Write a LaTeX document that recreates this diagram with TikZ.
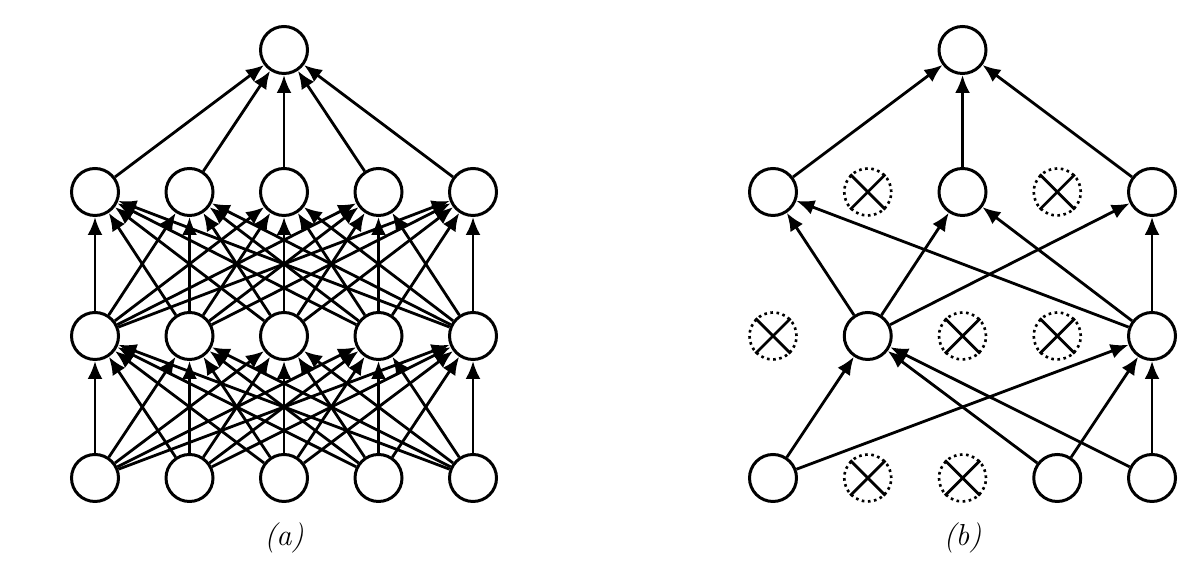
\documentclass[tikz,border=0pt]{standalone}
\usetikzlibrary{arrows.meta}

\begin{document}
\begin{tikzpicture}[
 n/.style={circle,draw,line width=1.7pt,fill=white,minimum size=.94cm,inner sep=0pt},
 d/.style={circle,draw,dotted,line width=1.5pt,minimum size=.94cm,inner sep=0pt},
 a/.style={-{Latex[length=3.6mm,width=3mm]},line width=1.6pt},
 lab/.style={font=\LARGE\itshape}]
\useasboundingbox (0,0) rectangle (24,11.24);
% (a) standard net
\foreach \i in {0,...,4}{
 \node[n] (a3\i) at (1.9+1.89*\i,1.68) {};
 \node[n] (a2\i) at (1.9+1.89*\i,4.52) {};
 \node[n] (a1\i) at (1.9+1.89*\i,7.40) {};}
\node[n] (a0) at (5.68,10.24) {};
\foreach \i in {0,...,4}{
 \draw[a] (a1\i)--(a0);
 \foreach \j in {0,...,4}{\draw[a] (a3\i)--(a2\j);\draw[a] (a2\i)--(a1\j);}}
\node[lab] (la) at (5.68,0.48) {(a)};
% (b) after dropout
\foreach \i/\s in {0/n,1/d,2/d,3/n,4/n}{\node[\s] (b3\i) at (15.46+1.895*\i,1.68) {};}
\foreach \i/\s in {0/d,1/n,2/d,3/d,4/n}{\node[\s] (b2\i) at (15.46+1.895*\i,4.52) {};}
\foreach \i/\s in {0/n,1/d,2/n,3/d,4/n}{\node[\s] (b1\i) at (15.46+1.895*\i,7.40) {};}
\node[n] (b0) at (19.25,10.24) {};
\foreach \p in {b31,b32,b20,b22,b23,b11,b13}{
 \draw[line width=1.6pt] (\p.45)--(\p.225) (\p.135)--(\p.315);}
\foreach \i in {0,2,4}{
 \draw[a] (b1\i)--(b0);
 \foreach \j in {1,4}{\draw[a] (b2\j)--(b1\i);}}
\foreach \i in {0,3,4}{
 \foreach \j in {1,4}{\draw[a] (b3\i)--(b2\j);}}
\node[lab] (lb) at (19.25,0.48) {(b)};
\end{tikzpicture}
\end{document}
